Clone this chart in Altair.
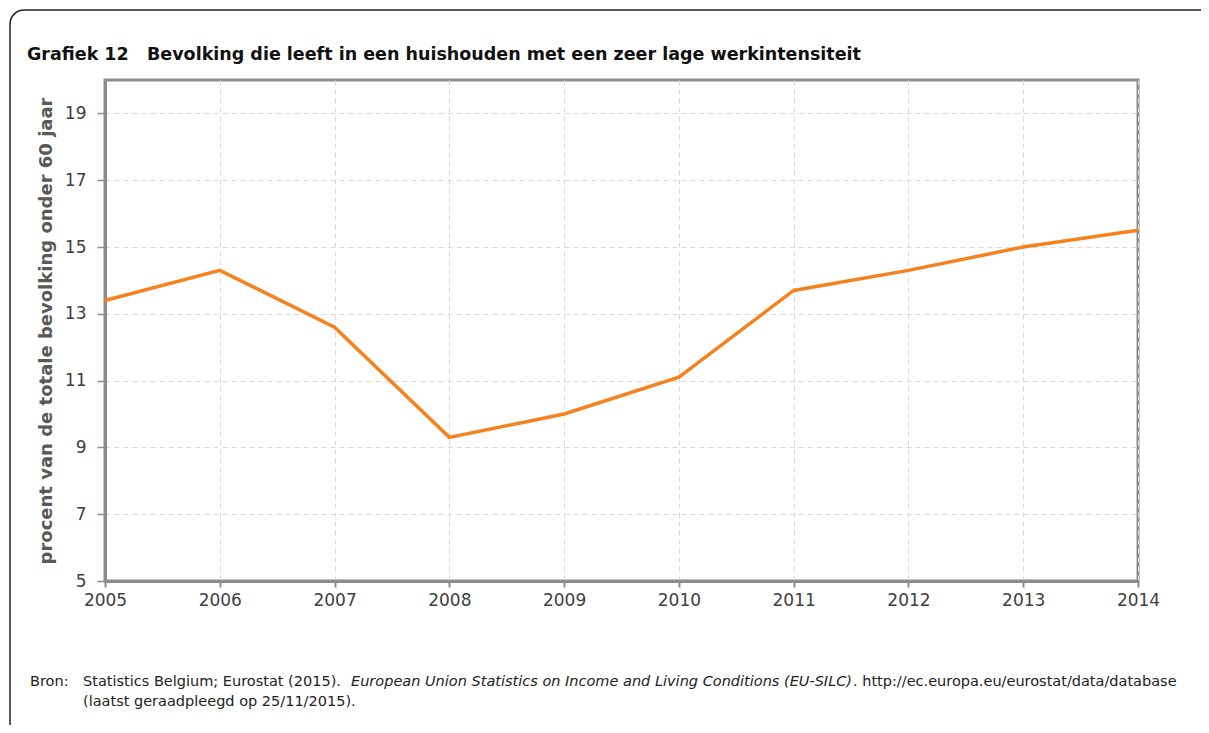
import altair as alt
import pandas as pd

years = [2005, 2006, 2007, 2008, 2009, 2010, 2011, 2012, 2013, 2014]
values = [13.4, 14.3, 12.6, 9.3, 10.0, 11.1, 13.7, 14.3, 15.0, 15.5]
y_ticks = [5, 7, 9, 11, 13, 15, 17, 19]

title_num = "Grafiek 12"
title_text = "Bevolking die leeft in een huishouden met een zeer lage werkintensiteit"
y_title = "procent van de totale bevolking onder 60 jaar"
src_label = "Bron:"
src_part1 = "Statistics Belgium; Eurostat (2015)."
src_part2 = "European Union Statistics on Income and Living Conditions (EU-SILC)"
src_part3 = ". http://ec.europa.eu/eurostat/data/database"
src_line2 = "(laatst geraadpleegd op 25/11/2015)."

df = pd.DataFrame({"jaar": years, "waarde": values})
one = pd.DataFrame({"a": [0]})

W, H = 1033, 501
FONT = "DejaVu Sans"

line = alt.Chart(df).mark_line(color="#F5821F", strokeWidth=3.5).encode(
    x=alt.X("jaar:Q",
            scale=alt.Scale(domain=[2005, 2014], nice=False, zero=False),
            axis=alt.Axis(values=years, format="d", title=None,
                          grid=True, gridDash=[5, 4], gridColor="#d9d9d9",
                          domainColor="#8c8c8c", domainWidth=3,
                          tickColor="#8c8c8c", tickSize=6, tickWidth=2,
                          labelFontSize=17, labelColor="#404040", labelFont=FONT,
                          labelPadding=5, labelFlush=False)),
    y=alt.Y("waarde:Q",
            scale=alt.Scale(domain=[5, 20], nice=False, zero=False),
            axis=alt.Axis(values=y_ticks, title=y_title,
                          grid=True, gridDash=[5, 4], gridColor="#d9d9d9",
                          domainColor="#8c8c8c", domainWidth=3,
                          tickColor="#8c8c8c", tickSize=8, tickWidth=1.5,
                          labelFontSize=17, labelColor="#404040", labelFont=FONT,
                          labelPadding=11,
                          titleFontSize=18, titleFont=FONT, titleFontWeight="bold",
                          titleColor="#595959", titleX=-59, titleY=H / 2,
                          titleAngle=270, titleAlign="center", titleBaseline="middle")),
)

frame = alt.Chart(one).mark_rect(fill=None, stroke="#222222", strokeWidth=1.5,
                                 cornerRadius=14, clip=False).encode(
    x=alt.value(-95), x2=alt.value(1140), y=alt.value(-70), y2=alt.value(700)
)

def txt(text, x, y, size, weight="normal", style="normal", color="#222222"):
    return alt.Chart(one).mark_text(text=text, align="left", baseline="alphabetic",
                                    font=FONT, fontSize=size, fontWeight=weight,
                                    fontStyle=style, color=color).encode(
        x=alt.value(x), y=alt.value(y))

FS = 14.5
t0 = txt(title_num, -78, -20, 17.5, weight="bold", color="#111111")
t1 = txt(title_text, 42, -20, 17.5, weight="bold", color="#111111")
s0 = txt(src_label, -75, 606, FS)
s1 = txt(src_part1, -22, 606, FS)
s2 = txt(src_part2, 246, 606, FS, style="italic")
s3 = txt(src_part3, 748, 606, FS)
s4 = txt(src_line2, -22, 626, FS)

chart = alt.layer(frame, line, t0, t1, s0, s1, s2, s3, s4).properties(
    width=W, height=H,
    autosize=alt.AutoSizeParams(type="none"),
    padding={"left": 97, "top": 72, "right": 63, "bottom": 144},
).configure_view(stroke="#8c8c8c", strokeWidth=3)

chart.save("out.html", embed_options={"renderer": "svg", "actions": False})
